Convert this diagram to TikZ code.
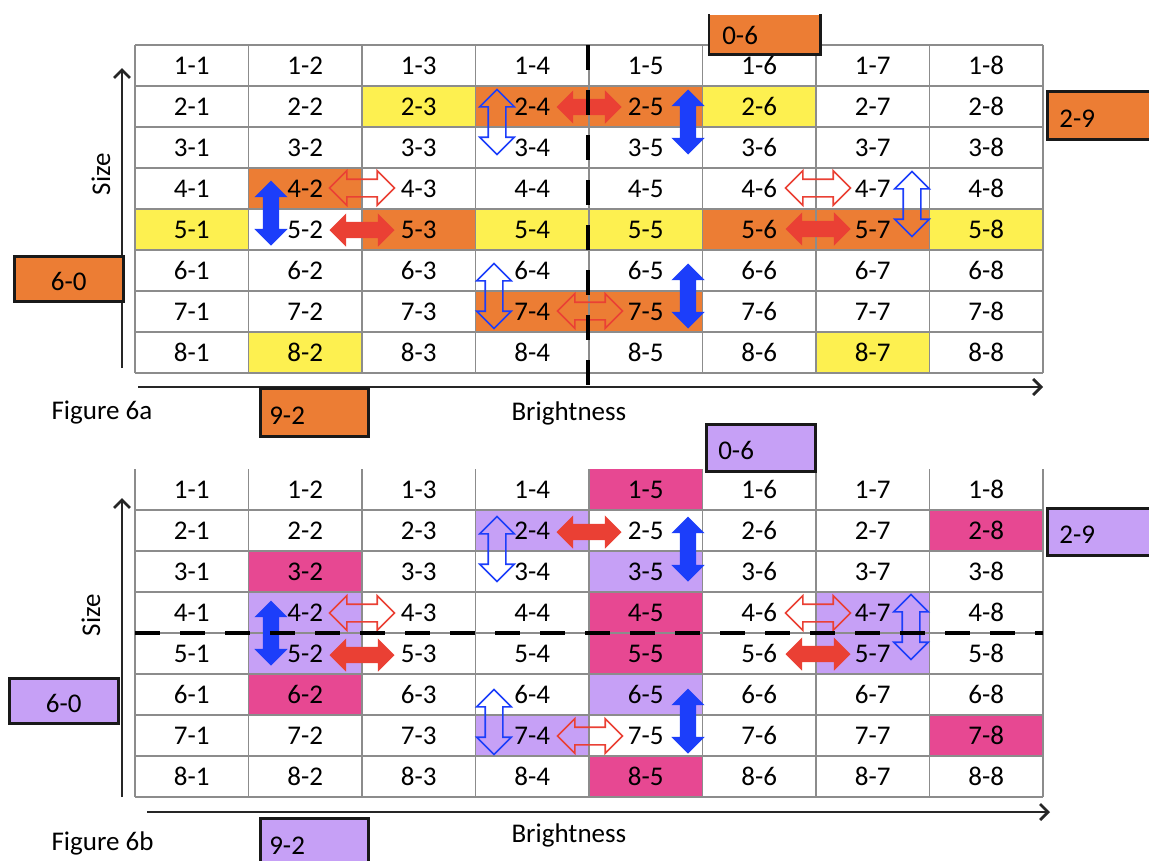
\documentclass[tikz,border=0pt]{standalone}
\usepackage{fontspec}
\setmainfont{Carlito}
\usetikzlibrary{shapes.arrows, arrows.meta, positioning, calc}
\definecolor{cellyellow}{RGB}{253, 240, 80}
\definecolor{cellorange}{RGB}{236, 125, 52}
\definecolor{cellpink}{RGB}{231, 72, 146}
\definecolor{celllav}{RGB}{198, 160, 246}
\definecolor{arrowred}{RGB}{234, 64, 52}
\definecolor{arrowblue}{RGB}{28, 62, 250}
\definecolor{gridgray}{RGB}{140, 140, 140}
\tikzset{
  font=\fontsize{27}{32}\selectfont,
  cell/.style={minimum width=113.5pt, minimum height=41pt, inner sep=0pt},
  gridline/.style={draw=gridgray, line width=1.5pt},
  axisline/.style={draw=black!85, line width=2.8pt, -{Straight Barb[length=8pt, width=16pt]}},
  cutline/.style={draw=black, line width=4.5pt, dash pattern=on 25pt off 20pt},
  boxline/.style={draw=black!90, line width=2.6pt},
  labelbox/.style={
    rectangle, boxline, inner xsep=12pt, inner ysep=0pt,
    minimum height=47pt, text width=85pt, align=left,
    text height=24pt, text depth=0pt, anchor=north west
  },
  swapbase/.style={
    double arrow, double arrow tip angle=90, double arrow head extend=8.5pt,
    inner xsep=0pt, inner ysep=8pt, minimum height=65pt
  },
  hfull/.style={swapbase, fill=arrowred},
  hopen/.style={swapbase, draw=arrowred, line width=1.6pt},
  vfull/.style={swapbase, rotate=90, fill=arrowblue},
  vopen/.style={swapbase, rotate=90, draw=arrowblue, line width=1.6pt}
}
\begin{document}
\begin{tikzpicture}[x=1pt, y=-1pt]
  \useasboundingbox (0,0) rectangle (1149,860);

  % Figure 6a: coloured cells, grid, cell labels
  \foreach \r/\c/\col in {2/3/cellyellow, 2/6/cellyellow, 5/1/cellyellow, 5/4/cellyellow,
      5/5/cellyellow, 5/8/cellyellow, 8/2/cellyellow, 8/7/cellyellow,
      2/4/cellorange, 2/5/cellorange, 4/2/cellorange, 5/3/cellorange,
      5/6/cellorange, 5/7/cellorange, 7/4/cellorange, 7/5/cellorange}
    \fill[\col] ({135+113.5*(\c-1)},{45+41*(\r-1)}) rectangle ++(113.5,41);
  \foreach \k in {0,...,8} {
    \draw[gridline] (135,{45+41*\k}) -- (1043,{45+41*\k});
    \draw[gridline] ({135+113.5*\k},45) -- ({135+113.5*\k},373);
  }
  \foreach \r in {1,...,8}
    \foreach \c in {1,...,8}
      \node[cell] (a\r\c) at ({135+113.5*(\c-0.5)},{45+41*(\r-0.5)}) {\r-\c};

  % Figure 6a: swap arrows
  \node[hfull] (ah1) at (589,107) {};
  \node[hfull] (ah2) at (362,230) {};
  \node[hfull] (ah3) at (818,229) {};
  \node[hopen] (ah4) at (362,188) {};
  \node[hopen] (ah5) at (818,188) {};
  \node[hopen] (ah6) at (590,311) {};
  \node[vfull] (av1) at (688,122) {};
  \node[vfull] (av2) at (271,213) {};
  \node[vfull] (av3) at (688,296) {};
  \node[vopen] (av4) at (497,122) {};
  \node[vopen] (av5) at (912,204) {};
  \node[vopen] (av6) at (494,296) {};

  % Figure 6a: axes and border labels
  \coordinate (ayfrom) at (122,368);
  \coordinate (ayto) at (122,68);
  \coordinate (axfrom) at (138,387);
  \coordinate (axto) at (1043,387);
  \draw[axisline] (ayfrom) -- (ayto);
  \draw[axisline] (axfrom) -- (axto);
  \node[rotate=90] (asize) at (101,174) {Size};
  \node[anchor=west] (afig) at (48,413) {Figure 6a};
  \node[anchor=west] (abright) at (508,413) {Brightness};

  \node[labelbox, fill=cellorange, draw=none, minimum height=38pt, text height=20pt] (a06) at (709,14) {0-6};
  \draw[boxline] (a06.north west) |- (a06.south east) -- (a06.north east);
  \node[labelbox, fill=cellorange, minimum height=48pt] (a29) at (1046,90) {2-9};
  \node[labelbox, fill=cellorange, minimum height=45pt, align=center] (a60) at (13,255) {6-0};
  \node[labelbox, fill=cellorange, minimum height=48pt, inner xsep=9pt, text width=90pt] (a92) at (259,387) {9-2};

  \draw[cutline] (588,45) -- (588,385);

  % Figure 6b: coloured cells, grid, cell labels
  \foreach \r/\c/\col in {1/5/cellpink, 3/2/cellpink, 4/5/cellpink, 5/5/cellpink,
      6/2/cellpink, 2/8/cellpink, 7/8/cellpink, 8/5/cellpink,
      2/4/celllav, 3/5/celllav, 4/2/celllav, 5/2/celllav,
      4/7/celllav, 5/7/celllav, 6/5/celllav, 7/4/celllav}
    \fill[\col] ({135+113.5*(\c-1)},{469+41*(\r-1)}) rectangle ++(113.5,41);
  \foreach \k in {0,...,8} {
    \draw[gridline] ({135+113.5*\k},469) -- ({135+113.5*\k},797);
  }
  \foreach \k in {1,...,8} {
    \draw[gridline] (135,{469+41*\k}) -- (1043,{469+41*\k});
  }
  \foreach \r in {1,...,8}
    \foreach \c in {1,...,8}
      \node[cell] (b\r\c) at ({135+113.5*(\c-0.5)},{469+41*(\r-0.5)}) {\r-\c};

  % Figure 6b: swap arrows
  \node[hfull] (bh1) at (589,532) {};
  \node[hfull] (bh2) at (362,655) {};
  \node[hfull] (bh3) at (818,654) {};
  \node[hopen] (bh4) at (362,613) {};
  \node[hopen] (bh5) at (818,613) {};
  \node[hopen] (bh6) at (590,736) {};
  \node[vfull] (bv1) at (688,549) {};
  \node[vfull] (bv2) at (271,633) {};
  \node[vfull] (bv3) at (688,721) {};
  \node[vopen] (bv4) at (497,549) {};
  \node[vopen] (bv5) at (911,627) {};
  \node[vopen] (bv6) at (494,722) {};

  % Figure 6b: axes and border labels
  \coordinate (byfrom) at (122,797);
  \coordinate (byto) at (122,498);
  \coordinate (bxfrom) at (147,812);
  \coordinate (bxto) at (1050,812);
  \draw[axisline] (byfrom) -- (byto);
  \draw[axisline] (bxfrom) -- (bxto);
  \node[rotate=90] (bsize) at (91,615) {Size};
  \node[anchor=west] (bfig) at (48,843) {Figure 6b};
  \node[anchor=west] (bbright) at (508,835) {Brightness};

  \node[labelbox, fill=celllav, minimum height=47pt] (b06) at (705,423) {0-6};
  \node[labelbox, fill=celllav, minimum height=47pt] (b29) at (1046,507) {2-9};
  \node[labelbox, fill=celllav, minimum height=45pt, align=center] (b60) at (8,677) {6-0};
  \node[labelbox, fill=celllav, minimum height=48pt, inner xsep=9pt, text width=90pt] (b92) at (259,817) {9-2};

  \draw[cutline] (135,633) -- (1043,633);
\end{tikzpicture}
\end{document}
